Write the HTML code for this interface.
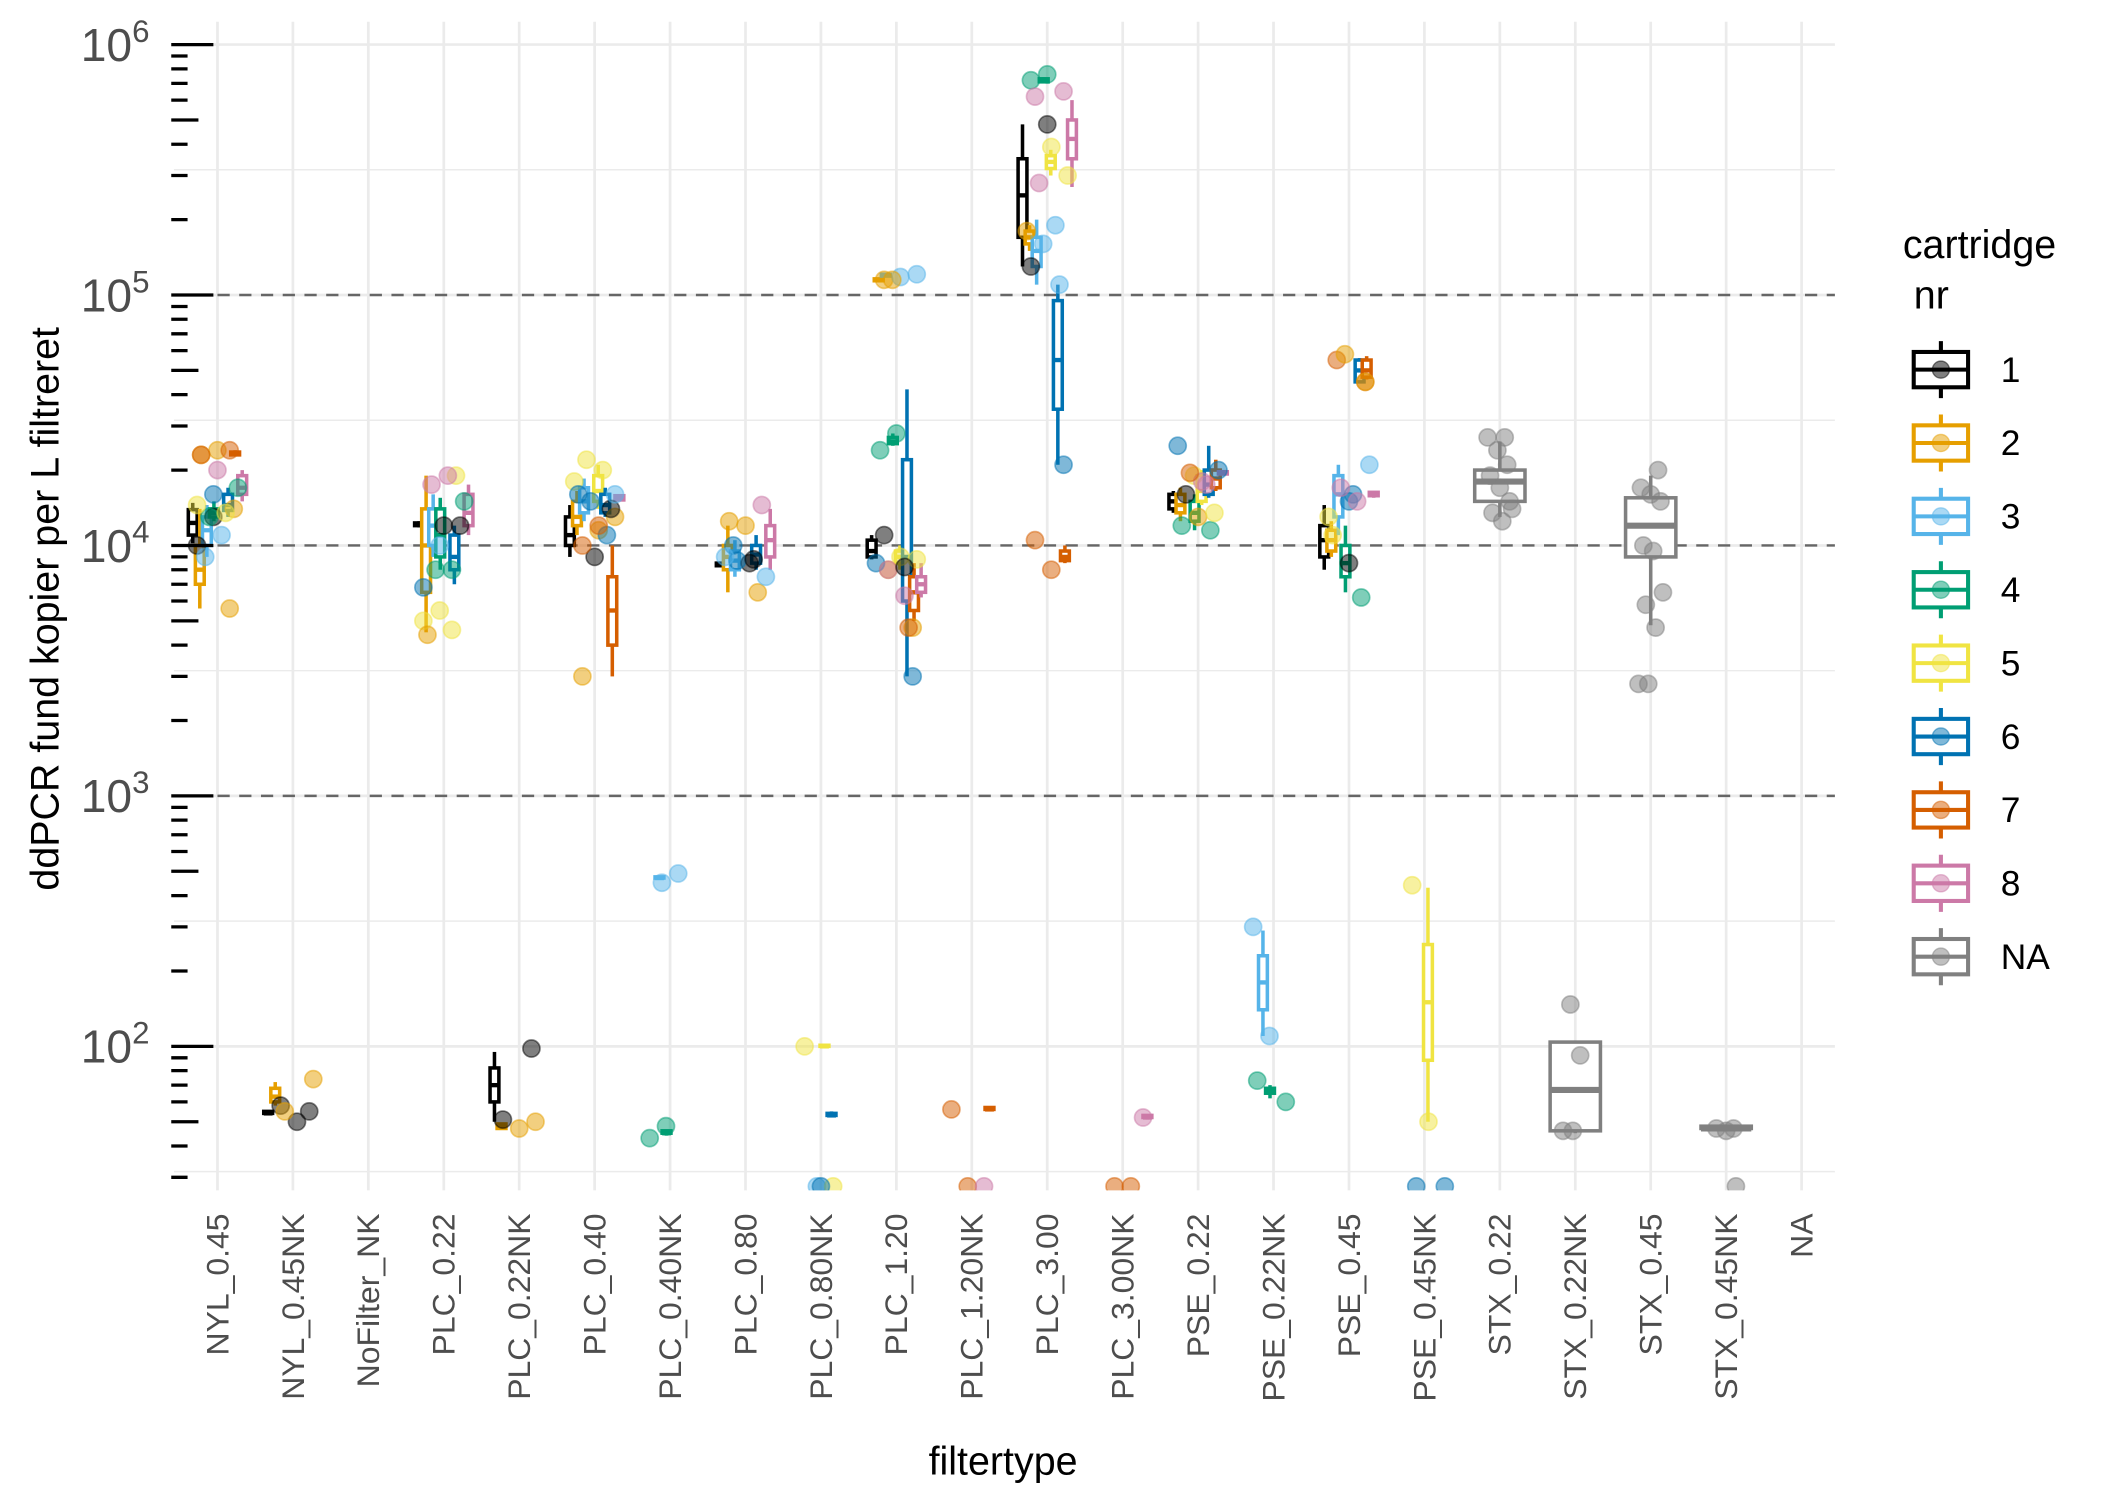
<!DOCTYPE html>
<html><head><meta charset="utf-8">
<style>html,body{margin:0;padding:0;background:#fff}svg{display:block}</style></head>
<body>
<svg id="chart" width="2104" height="1488" viewBox="0 0 1548 1095" preserveAspectRatio="none" xmlns="http://www.w3.org/2000/svg" font-family="Liberation Sans, Arial, sans-serif">
<defs><clipPath id="panelClip"><rect x="126" y="14" width="1226" height="862"/></clipPath></defs>
<g id="grid"></g>
<g id="refs"></g>
<g id="marks" clip-path="url(#panelClip)"></g>
<g id="yaxis"></g>
<g id="xaxis"></g>
<text x="738" y="1085" font-size="29" text-anchor="middle" fill="#000">filtertype</text>
<text transform="translate(43,448) rotate(-90)" font-size="29" text-anchor="middle" fill="#000">ddPCR fund kopier per L filtreret</text>
<g id="legend">
<text x="1400" y="190" font-size="29" fill="#000">cartridge</text>
<text x="1400" y="227" font-size="29" fill="#000" xml:space="preserve"> nr</text>
</g>
</svg>
<script>
const categories = ["NYL_0.45","NYL_0.45NK","NoFilter_NK","PLC_0.22","PLC_0.22NK","PLC_0.40","PLC_0.40NK","PLC_0.80","PLC_0.80NK","PLC_1.20","PLC_1.20NK","PLC_3.00","PLC_3.00NK","PSE_0.22","PSE_0.22NK","PSE_0.45","PSE_0.45NK","STX_0.22","STX_0.22NK","STX_0.45","STX_0.45NK","NA"];
const groups = ["1","2","3","4","5","6","7","8","NA"];
const groupColors = ["#000000","#E69F00","#56B4E9","#009E73","#F0E442","#0072B2","#D55E00","#CC79A7","#808080"];
const yTickExps = [2,3,4,5,6];
const refLines = [1000,10000,100000];
// boxes: category index, group index, lower whisker, q1, median, q3, upper whisker
const boxCat = [0,0,0,0,0,0,0, 1,1, 3,3,3,3,3,3, 4,4, 5,5,5,5,5,5,5, 6,6, 7,7,7,7,7, 8,8, 9,9,9,9,9,9,9,9, 10, 11,11,11,11,11,11,11,11, 12, 13,13,13,13,13,13,13, 14,14, 15,15,15,15,15,15,15, 16, 17,18,19,20];
const boxGrp = [0,1,2,3,5,6,7, 0,1, 0,1,2,3,5,7, 0,1, 0,1,2,4,5,6,7, 2,3, 0,1,2,5,7, 4,5, 0,1,2,3,4,5,6,7, 6, 0,1,2,3,4,5,6,7, 7, 0,1,3,4,5,6,7, 2,3, 0,1,2,3,5,6,7, 4, 8,8,8,8];
const boxLo  = [10200,5600,9000,12500,13000,23000,15000, 54,58, 11800,4500,9000,8000,7000,11000, 50,47, 9000,11000,12500,14000,13000,3000,15000, 465,44, 8200,6500,7500,8000,8000, 100,52, 8800,113000,118000,25000,8000,3000,5000,6200, 55, 130000,150000,110000,700000,300000,21000,8500,270000, 51, 13500,12500,11500,14500,15500,16500,19000, 110,62, 8000,9000,11000,6500,45000,46000,15500, 50, 13000,45,4800,46];
const boxQ1  = [11000,7000,10000,13000,13800,23000,16000, 54,60, 12000,6500,10000,9000,8000,12000, 60,47, 10000,12000,13500,15000,13500,4000,15200, 470,45, 8300,8000,8000,8500,9000, 100,53, 9000,114000,119000,25500,8500,6000,5500,6500, 56, 170000,160000,130000,710000,320000,35000,8700,350000, 52, 14000,13500,12500,15000,16000,17000,19300, 140,65, 9000,9500,13000,7500,45000,47000,15800, 88, 15000,46,9000,47];
const boxMed = [12300,8000,11500,13500,14500,23300,17000, 54,63, 12100,10000,12000,11000,9000,13500, 70,48, 11000,13000,15000,16500,14500,5500,15500, 470,45, 8400,9000,8700,9200,10500, 100,53, 9500,115000,120000,26000,9000,9000,6500,7000, 56, 250000,170000,150000,720000,340000,55000,9000,420000, 52, 15000,14500,13500,16500,17500,18500,19500, 180,67, 10500,10500,16000,8500,50000,50000,16000, 150, 18000,67,12000,47];
const boxQ3  = [13900,10000,13000,14000,16000,23600,19000, 55,68, 12300,14000,14000,14000,11000,16000, 82,49, 13000,15000,17000,19000,16000,7500,15800, 475,46, 8500,10000,9500,10000,12000, 101,54, 10500,116000,121000,27000,9500,22000,7500,7500, 57, 350000,180000,170000,730000,360000,95000,9500,500000, 53, 16000,16000,15000,19000,20000,20000,19700, 230,68, 12000,11500,19000,10000,55000,55000,16300, 255, 20000,104,15500,48];
const boxHi  = [14800,14000,14500,15000,17000,24000,20000, 55,72, 12500,19000,16000,15500,12000,17500, 95,49, 14500,16500,18500,21000,17000,10000,16000, 480,46, 8600,12000,10500,11000,14000, 102,55, 11000,117000,122000,28000,10000,42000,8500,8500, 57, 480000,190000,200000,740000,380000,110000,10000,600000, 53, 16500,17000,16000,20000,25000,22000,20000, 290,70, 14500,12500,21000,12000,56000,57000,16500, 430, 26000,104,19000,48];
// points: category index, group index, value (0 = below axis)
const ptCat = [0,0,0,0,0,0,0,0,0,0,0,0,0,0,0,0, 1,1,1,1,1, 3,3,3,3,3,3,3,3,3,3,3,3,3,3, 4,4,4,4, 5,5,5,5,5,5,5,5,5,5,5,5,5,5, 6,6,6,6, 7,7,7,7,7,7,7,7,7,7, 8,8,8,8, 9,9,9,9,9,9,9,9,9,9,9,9,9,9,9,9,9, 10,10,10, 11,11,11,11,11,11,11,11,11,11,11,11,11,11,11,11, 12,12,12, 13,13,13,13,13,13,13,13,13,13,13, 14,14,14,14, 15,15,15,15,15,15,15,15,15,15,15,15,15, 16,16,16,16, 17,17,17,17,17,17,17,17,17,17, 18,18,18,18, 19,19,19,19,19,19,19,19,19,19,19, 20,20,20,20];
const ptGrp = [0,0,1,1,1,1,2,2,3,3,4,4,5,6,6,7, 0,0,0,1,1, 4,4,4,4,1,0,0,7,7,3,3,3,5,2, 0,0,1,1, 1,1,1,4,4,4,5,5,5,0,0,6,6,2, 2,2,3,3, 1,1,1,7,5,0,2,5,0,2, 2,4,4,5, 1,1,2,2,1,7,5,1,6,3,3,5,0,4,4,7,0, 6,6,7, 3,3,7,7,4,4,7,2,1,2,2,0,0,5,6,6, 7,6,6, 5,4,3,3,1,4,0,7,5,6,7, 2,2,3,3, 5,6,6,5,2,7,7,4,1,3,4,0,1, 4,4,5,5, 8,8,8,8,8,8,8,8,8,8, 8,8,8,8, 8,8,8,8,8,8,8,8,8,8,8, 8,8,8,8];
const ptVal = [10000,13000,5600,23000,24000,14000,9000,11000,17000,13000,13500,14500,16000,24000,23000,20000, 55,58,50,74,55, 4600,5000,5500,19000,4400,12000,12000,17500,19000,15000,8000,8000,6800,10000, 98,51,47,50, 3000,11500,13000,22000,20000,18000,15000,11000,16000,9000,14000,10000,12000,16000, 450,490,43,48, 6500,12500,12000,14500,10000,8500,7500,8700,8800,9000, 0,0,100,0, 4700,115000,118000,121000,8000,6300,8500,115000,4700,24000,28000,3000,11000,9000,8800,8000,8200, 56,0,0, 720000,760000,650000,620000,390000,300000,280000,190000,180000,160000,110000,130000,480000,21000,10500,8000, 52,0,0, 25000,19000,11500,12000,13000,13500,16000,18000,20000,19500,17500, 300,110,60,73, 15000,45000,55000,16000,21000,17000,15000,13000,58000,6200,11000,8500,45000, 440,50,0,0, 27000,27000,24000,21000,19000,17000,15000,13500,12500,14000, 147,92,46,46, 20000,17000,16000,15000,10000,9500,6500,5800,4700,2800,2800, 47,47,46,0];

const NS="http://www.w3.org/2000/svg";
const PX0=128, PX1=1350, PTOP=16, PBOT=876;
const catX = i => 160 + i*55.5;
const yScale = v => v<=0 ? 873 : 770 - (Math.log10(v)-2)*184.3;
const grpOffset = g => g===8 ? 0 : (g-3.5)*5.2;
const grpWidth = g => g===8 ? 37 : 6.5;
function mk(tag, attrs, parent){const e=document.createElementNS(NS,tag);for(const k in attrs)e.setAttribute(k,attrs[k]);parent.appendChild(e);return e;}
const grid=document.getElementById('grid'), refs=document.getElementById('refs'), marks=document.getElementById('marks'), yaxis=document.getElementById('yaxis'), xaxis=document.getElementById('xaxis'), legend=document.getElementById('legend');

for (let e=1.5; e<=5.5; e+=1){
  const y=yScale(Math.pow(10,e));
  const l=mk('line',{x1:PX0,x2:PX1,y1:y,y2:y,stroke:'#ebebeb','stroke-width':1.1},grid);
  
  
}
yTickExps.forEach(e=>{
  const y=yScale(Math.pow(10,e));
  const l=mk('line',{x1:PX0,x2:PX1,y1:y,y2:y,stroke:'#ebebeb','stroke-width':2},grid);
  
  
});
categories.forEach((c,i)=>{
  const x=catX(i);
  const l=mk('line',{x1:x,x2:x,y1:PTOP,y2:PBOT,stroke:'#ebebeb','stroke-width':2},grid);
  
  
  const t=mk('text',{transform:`translate(${x+8},893) rotate(-90)`,'font-size':23.5,'text-anchor':'end',fill:'#4d4d4d'},xaxis);
  t.textContent=c;
  
  
});
refLines.forEach(v=>{
  const y=yScale(v);
  const l=mk('line',{x1:PX0,x2:PX1,y1:y,y2:y,stroke:'#666','stroke-width':1.8,'stroke-dasharray':'9,7'},refs);
  
  
});
yTickExps.forEach(e=>{
  const y=yScale(Math.pow(10,e));
  const t=mk('text',{x:110,y:y+12,'font-size':34,'text-anchor':'end',fill:'#4d4d4d'},yaxis);
  t.innerHTML='10<tspan dy="-14" font-size="23">'+e+'</tspan>';
  
  
});
for (let e=1; e<=6; e++){
  for (let m=1; m<=9; m++){
    const v=m*Math.pow(10,e); const y=yScale(v);
    if (y<PTOP-2 || y>PBOT+2) continue;
    const x2 = m===1?157:(m===5?146:138);
    const l=mk('line',{x1:126,x2:x2,y1:y,y2:y,stroke:'#000','stroke-width':2.4},yaxis);
    
    
    if (e===6) break;
  }
}
boxCat.forEach((c,i)=>{
  const g=boxGrp[i], col=groupColors[g];
  const x=catX(c)+grpOffset(g), w=grpWidth(g);
  const gg=mk('g',{},marks);
  
  
  const sw = g===8?2.6:2.6;
  mk('line',{x1:x,x2:x,y1:yScale(boxHi[i]),y2:yScale(boxQ3[i]),stroke:col,'stroke-width':sw},gg);
  mk('line',{x1:x,x2:x,y1:yScale(boxQ1[i]),y2:yScale(boxLo[i]),stroke:col,'stroke-width':sw},gg);
  const yq3=yScale(boxQ3[i]), yq1=yScale(boxQ1[i]);
  mk('rect',{x:x-w/2,y:yq3,width:w,height:Math.max(yq1-yq3,0.5),fill:'#fff',stroke:col,'stroke-width':sw},gg);
  const ym=yScale(boxMed[i]);
  mk('line',{x1:x-w/2,x2:x+w/2,y1:ym,y2:ym,stroke:col,'stroke-width':g===8?4.5:3.2},gg);
});
ptCat.forEach((c,i)=>{
  const g=ptGrp[i];
  const jit = (((i*37)%11)-5)/5*15;
  const x = catX(c) + (g===8 ? jit*0.6 : jit);
  const p=mk('circle',{cx:x,cy:yScale(ptVal[i]),r:6.3,fill:groupColors[g],'fill-opacity':0.5,stroke:groupColors[g],'stroke-opacity':0.5,'stroke-width':1.2},marks);
  
  
});
groups.forEach((gname,k)=>{
  const y=272+k*54, col=groupColors[k];
  const gg=mk('g',{},legend);
  
  
  mk('line',{x1:1428,x2:1428,y1:y-21,y2:y+21,stroke:col,'stroke-width':3},gg);
  mk('rect',{x:1408,y:y-13,width:40,height:26,fill:'#fff',stroke:col,'stroke-width':3},gg);
  mk('line',{x1:1408,x2:1448,y1:y,y2:y,stroke:col,'stroke-width':3},gg);
  mk('circle',{cx:1428,cy:y,r:6.3,fill:col,'fill-opacity':0.5,stroke:col,'stroke-opacity':0.5},gg);
  const t=mk('text',{x:1472,y:y+9,'font-size':26,fill:'#000'},gg);
  t.textContent=gname;
});
</script>
</body></html>
